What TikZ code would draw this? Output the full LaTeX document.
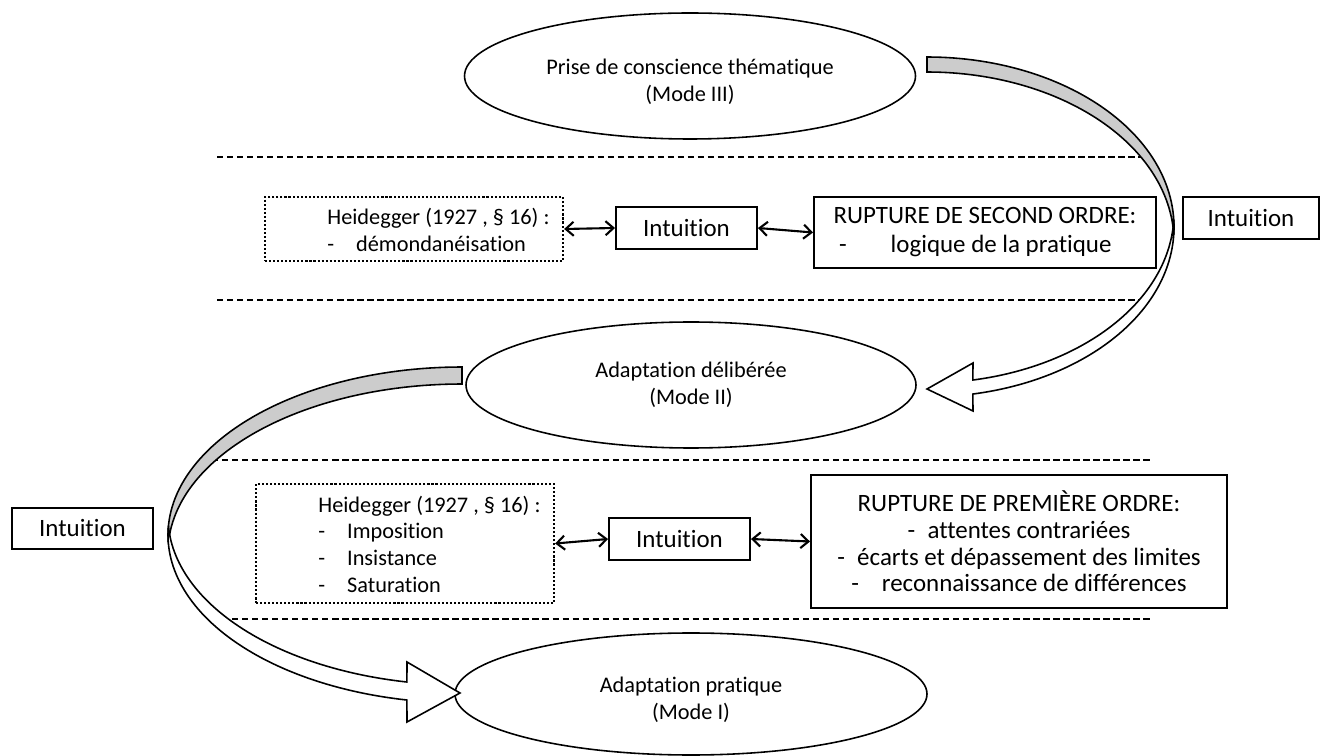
\documentclass[tikz,border=0pt]{standalone}
\usepackage{fontspec}
\setmainfont{Carlito}[Ligatures=NoCommon]
\usetikzlibrary{arrows.meta,shapes.geometric}
\newcommand\pxl{0.02cm}
\newcommand\dn{\rule{0pt}{15pt}}
\tikzset{
  mode/.style={ellipse, draw, line width=0.9pt, fill=white, inner sep=0pt, align=center, font=\fontsize{12.7}{15.5}\selectfont},
  solidbox/.style={draw, line width=1.1pt, fill=white, inner sep=0pt, align=center, font=\fontsize{14.2}{15.2}\selectfont},
  dotbox/.style={draw, line width=1.3pt, dash pattern=on 1.2pt off 1.1pt, inner sep=0pt},
  heid/.style={inner sep=0pt, align=left, anchor=west, font=\fontsize{12.7}{15.2}\selectfont},
  sep/.style={line width=1.6pt, dash pattern=on 3.6pt off 2.1pt},
  link/.style={line width=1.2pt, {Straight Barb[length=4.5pt,width=8pt]}-{Straight Barb[length=4.5pt,width=8pt]}},
  band/.style={draw, line width=0.9pt, line join=miter, fill=white},
  bandback/.style={draw, line width=0.9pt, fill=gray!40},
}
\begin{document}
\begin{tikzpicture}[x=0.02cm, y=-0.02cm]
\useasboundingbox (0,0) rectangle (1322,756);

% separators
\coordinate (s1a) at (217,157); \coordinate (s1b) at (1150,157);
\coordinate (s2a) at (217,300); \coordinate (s2b) at (1150,300);
\coordinate (s3a) at (212,460); \coordinate (s3b) at (1152,460);
\coordinate (s4a) at (212,619); \coordinate (s4b) at (1152,619);
\draw[sep] (s1a) -- (s1b);
\draw[sep] (s2a) -- (s2b);
\draw[sep] (s3a) -- (s3b);
\draw[sep] (s4a) -- (s4b);

% modes
\node[mode, minimum width=451*\pxl, minimum height=126*\pxl] (m3) at (690,76) {\dn Prise de conscience thématique\\(Mode III)};
\node[mode, minimum width=450*\pxl, minimum height=126*\pxl] (m2) at (691,385) {Adaptation délibérée\\(Mode II)};
\node[mode, minimum width=472*\pxl, minimum height=122*\pxl] (m1) at (691,694) {\dn Adaptation pratique\\(Mode I)};

% upper row
\node[dotbox, minimum width=298*\pxl, minimum height=64*\pxl] (h3) at (414,229) {};
\node[heid] (h3t) at (327,230) {Heidegger (1927 , § 16) :\\-\hspace{12.5pt}démondanéisation};
\node[solidbox, minimum width=141*\pxl, minimum height=42*\pxl] (i3) at (686.5,228) {Intuition};
\node[solidbox, minimum width=342*\pxl, minimum height=71*\pxl, font=\fontsize{14.2}{16.5}\selectfont] (r2) at (985,232.5) {RUPTURE DE SECOND ORDRE:\\-\hspace{25pt}logique de la pratique\kern11pt};
\draw[link] (h3.east) -- (i3.west);
\draw[link] (i3.east) -- (r2.west);

% side boxes
\node[solidbox, minimum width=136*\pxl, minimum height=42*\pxl] (ir) at (1251,218) {Intuition};
\node[solidbox, minimum width=141*\pxl, minimum height=41*\pxl] (il) at (82.5,528.5) {Intuition};

% lower row
\node[dotbox, minimum width=298*\pxl, minimum height=119*\pxl] (h1) at (405,543.5) {};
\node[heid] (h1t) at (318,544) {Heidegger (1927 , § 16) :\\-\hspace{12.5pt}Imposition\\-\hspace{12.5pt}Insistance\\-\hspace{12.5pt}Saturation};
\node[solidbox, minimum width=141*\pxl, minimum height=42*\pxl] (i1) at (679.5,539) {Intuition};
\node[solidbox, minimum width=416*\pxl, minimum height=133*\pxl] (r1) at (1019,541.5) {RUPTURE DE PREMIÈRE ORDRE:\\-\hspace{7pt}attentes contrariées\\-\hspace{7pt}écarts et dépassement des limites\\-\hspace{13pt}reconnaissance de différences};
\draw[link] (h1.east) -- (i1.west);
\draw[link] (i1.east) -- (r1.west);

% curved arrow: Mode III -> Mode II
\path[bandback] plot[domain=-90:2.53, samples=60, variable=\t] ({927+247*cos(\t)},{227+170*sin(\t)})
  -- plot[domain=-2.53:-90, samples=60, variable=\t] ({927+247*cos(\t)},{242+170*sin(\t)}) -- cycle;
\path[band] plot[domain=79.3:2.36, samples=60, variable=\t] ({927+247*cos(\t)},{213+170*sin(\t)})
  -- plot[domain=-2.36:79.3, samples=60, variable=\t] ({927+247*cos(\t)},{227+170*sin(\t)})
  -- (973,411) -- (927,389) -- (973,363) -- cycle;

% curved arrow: Mode II -> Mode I
\path[bandback] plot[domain=270:177.1, samples=60, variable=\t] ({462+294*cos(\t)},{535+168*sin(\t)})
  -- plot[domain=182.9:270, samples=60, variable=\t] ({462+294*cos(\t)},{552+168*sin(\t)}) -- cycle;
\path[band] plot[domain=100.8:176.93, samples=60, variable=\t] ({462+294*cos(\t)},{517+168*sin(\t)})
  -- plot[domain=183.07:100.8, samples=60, variable=\t] ({462+294*cos(\t)},{535+168*sin(\t)})
  -- (407,722) -- (460,693) -- (407,662) -- cycle;
\end{tikzpicture}
\end{document}
